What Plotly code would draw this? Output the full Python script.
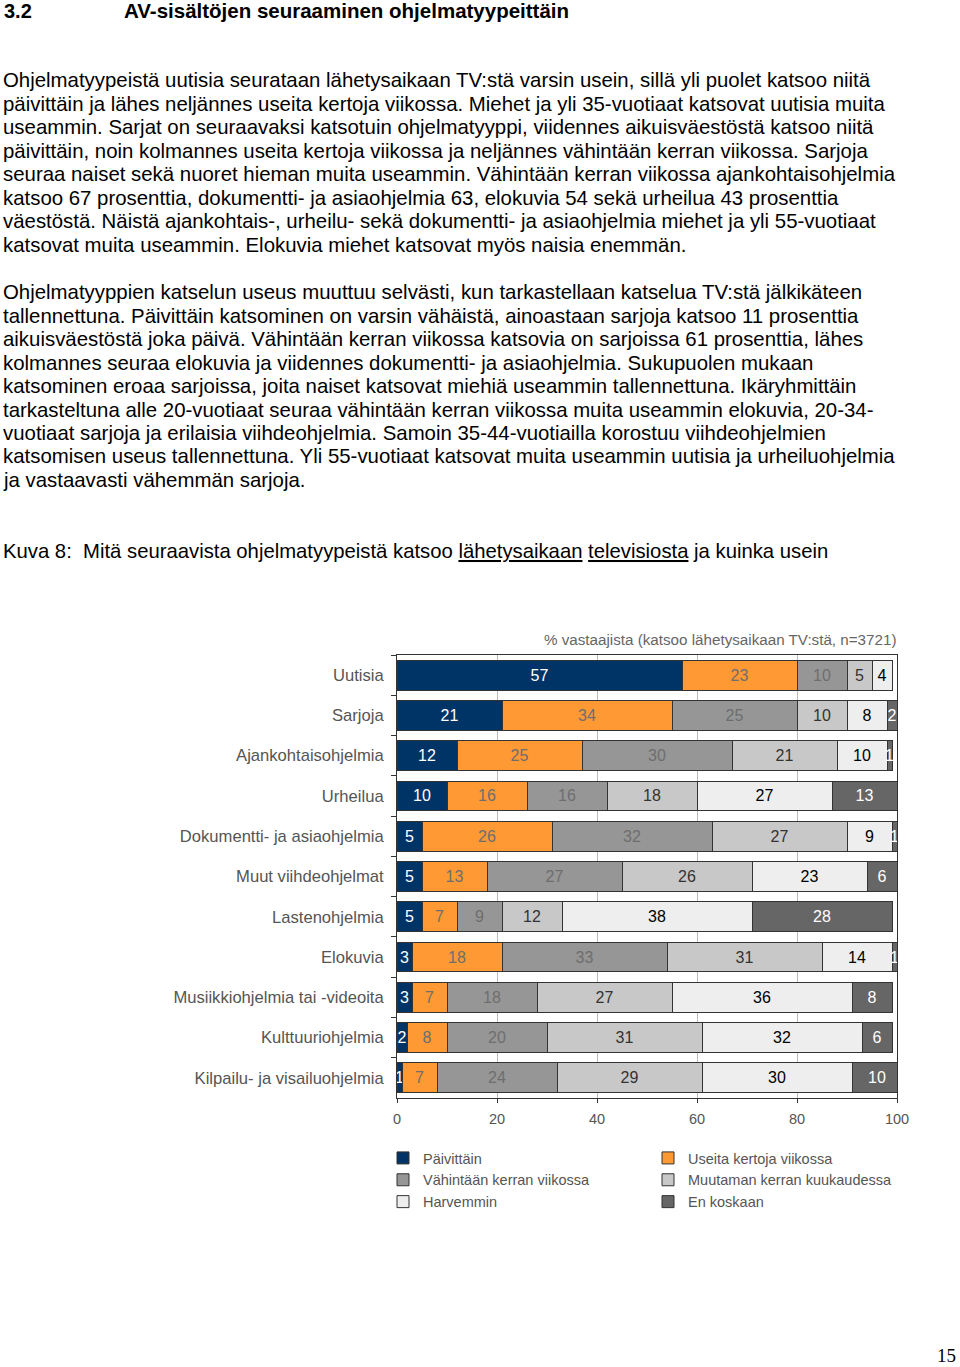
import plotly.graph_objects as go

categories = ["Uutisia", "Sarjoja", "Ajankohtaisohjelmia", "Urheilua",
              "Dokumentti- ja asiaohjelmia", "Muut viihdeohjelmat", "Lastenohjelmia",
              "Elokuvia", "Musiikkiohjelmia tai -videoita", "Kulttuuriohjelmia",
              "Kilpailu- ja visailuohjelmia"]

series_names = ["Päivittäin", "Useita kertoja viikossa", "Vähintään kerran viikossa",
                "Muutaman kerran kuukaudessa", "Harvemmin", "En koskaan"]

paivittain = [57, 21, 12, 10, 5, 5, 5, 3, 3, 2, 1]
useita = [23, 34, 25, 16, 26, 13, 7, 18, 7, 8, 7]
vahintaan = [10, 25, 30, 16, 32, 27, 9, 33, 18, 20, 24]
muutaman = [5, 10, 21, 18, 27, 26, 12, 31, 27, 31, 29]
harvemmin = [4, 8, 10, 27, 9, 23, 38, 14, 36, 32, 30]
en_koskaan = [0, 2, 1, 13, 1, 6, 28, 1, 8, 6, 10]

x_ticks = [0, 20, 40, 60, 80, 100]

values = [paivittain, useita, vahintaan, muutaman, harvemmin, en_koskaan]
colors = ["#003366", "#FF9933", "#969696", "#C8C8C8", "#EEEEEE", "#666666"]
text_colors = ["#FFFFFF", "#6E6E6E", "#6E6E6E", "#333333", "#000000", "#FFFFFF"]
legends = ["legend", "legend2", "legend", "legend2", "legend", "legend2"]

FONT = "Liberation Sans, Arial, sans-serif"

W, H = 960, 1367
# plot area in page pixels
PL, PR, PT, PB = 397, 897, 655, 1098


def px_x(p):
    return (p - PL) / (PR - PL)


def px_y(p):
    return (PB - p) / (PB - PT)


fig = go.Figure()
for name, vals, col, tcol, lg in zip(series_names, values, colors, text_colors, legends):
    fig.add_trace(go.Bar(
        y=categories, x=vals, name=name, orientation="h",
        marker=dict(color=col, line=dict(color="#333333", width=1)),
        text=[str(v) if v > 0 else "" for v in vals],
        textposition="inside", insidetextanchor="middle",
        textfont=dict(color=tcol, size=16, family=FONT),
        legend=lg, hoverinfo="skip",
    ))

annotations = []

# Heading
annotations.append(dict(text="<b>3.2</b>", x=px_x(2), y=px_y(11), xref="paper", yref="paper",
                        xanchor="left", yanchor="middle", showarrow=False,
                        font=dict(size=20, color="#000", family=FONT)))
annotations.append(dict(text="<b>AV-sisältöjen seuraaminen ohjelmatyypeittäin</b>", x=px_x(122), y=px_y(11),
                        xref="paper", yref="paper", xanchor="left", yanchor="middle", showarrow=False,
                        font=dict(size=20.5, color="#000", family=FONT)))

para1 = [
    "Ohjelmatyypeistä uutisia seurataan lähetysaikaan TV:stä varsin usein, sillä yli puolet katsoo niitä",
    "päivittäin ja lähes neljännes useita kertoja viikossa. Miehet ja yli 35-vuotiaat katsovat uutisia muita",
    "useammin. Sarjat on seuraavaksi katsotuin ohjelmatyyppi, viidennes aikuisväestöstä katsoo niitä",
    "päivittäin, noin kolmannes useita kertoja viikossa ja neljännes vähintään kerran viikossa. Sarjoja",
    "seuraa naiset sekä nuoret hieman muita useammin. Vähintään kerran viikossa ajankohtaisohjelmia",
    "katsoo 67 prosenttia, dokumentti- ja asiaohjelmia 63, elokuvia 54 sekä urheilua 43 prosenttia",
    "väestöstä. Näistä ajankohtais-, urheilu- sekä dokumentti- ja asiaohjelmia miehet ja yli 55-vuotiaat",
    "katsovat muita useammin. Elokuvia miehet katsovat myös naisia enemmän.",
]
para2 = [
    "Ohjelmatyyppien katselun useus muuttuu selvästi, kun tarkastellaan katselua TV:stä jälkikäteen",
    "tallennettuna. Päivittäin katsominen on varsin vähäistä, ainoastaan sarjoja katsoo 11 prosenttia",
    "aikuisväestöstä joka päivä. Vähintään kerran viikossa katsovia on sarjoissa 61 prosenttia, lähes",
    "kolmannes seuraa elokuvia ja viidennes dokumentti- ja asiaohjelmia. Sukupuolen mukaan",
    "katsominen eroaa sarjoissa, joita naiset katsovat miehiä useammin tallennettuna. Ikäryhmittäin",
    "tarkasteltuna alle 20-vuotiaat seuraa vähintään kerran viikossa muita useammin elokuvia, 20-34-",
    "vuotiaat sarjoja ja erilaisia viihdeohjelmia. Samoin 35-44-vuotiailla korostuu viihdeohjelmien",
    "katsomisen useus tallennettuna. Yli 55-vuotiaat katsovat muita useammin uutisia ja urheiluohjelmia",
    "ja vastaavasti vähemmän sarjoja.",
]
for i, line in enumerate(para1):
    annotations.append(dict(text=line, x=px_x(1), y=px_y(80 + i * 23.57), xref="paper", yref="paper",
                            xanchor="left", yanchor="middle", showarrow=False,
                            font=dict(size=20.4, color="#000", family=FONT)))
for i, line in enumerate(para2):
    annotations.append(dict(text=line, x=px_x(1), y=px_y(292 + i * 23.5), xref="paper", yref="paper",
                            xanchor="left", yanchor="middle", showarrow=False,
                            font=dict(size=20.4, color="#000", family=FONT)))

caption = ("Kuva 8:  Mitä seuraavista ohjelmatyypeistä katsoo "
           "<span style='text-decoration:underline'>lähetysaikaan</span> "
           "<span style='text-decoration:underline'>televisiosta</span> ja kuinka usein")
annotations.append(dict(text=caption, x=px_x(1), y=px_y(551), xref="paper", yref="paper",
                        xanchor="left", yanchor="middle", showarrow=False,
                        font=dict(size=20.3, color="#000", family=FONT)))

annotations.append(dict(text="% vastaajista (katsoo lähetysaikaan TV:stä, n=3721)", x=px_x(898), y=px_y(639),
                        xref="paper", yref="paper", xanchor="right", yanchor="middle", showarrow=False,
                        font=dict(size=15.2, color="#666666", family=FONT)))

annotations.append(dict(text="15", x=px_x(958), y=px_y(1355), xref="paper", yref="paper",
                        xanchor="right", yanchor="middle", showarrow=False,
                        font=dict(size=19, color="#000", family="Liberation Serif, serif")))

fig.update_layout(
    width=W, height=H,
    margin=dict(l=PL, r=W - PR, t=PT, b=H - PB, pad=0),
    paper_bgcolor="#FFFFFF", plot_bgcolor="#FFFFFF",
    barmode="stack", bargap=0.26,
    font=dict(family=FONT, color="#555555"),
    uniformtext=dict(minsize=16, mode="show"),
    xaxis=dict(range=[0, 100], tickvals=x_ticks, showgrid=True, gridcolor="#BBBBBB", gridwidth=1,
               showline=True, linecolor="#333333", linewidth=1, mirror=True,
               ticks="outside", ticklen=4, tickcolor="#333333",
               tickfont=dict(size=14.5, color="#555555", family=FONT), zeroline=False,
               ticklabelstandoff=4),
    yaxis=dict(categoryorder="array", categoryarray=categories, autorange="reversed",
               showline=True, linecolor="#333333", linewidth=1, mirror=True,
               ticks="outside", ticklen=5, tickcolor="#333333", tickson="boundaries",
               tickfont=dict(size=16.6, color="#555555", family=FONT), ticklabelstandoff=9),
    legend=dict(x=px_x(383), y=px_y(1142), xanchor="left", yanchor="top", xref="paper", yref="paper",
                orientation="v", font=dict(size=14.5, color="#555555", family=FONT),
                bgcolor="rgba(0,0,0,0)", tracegroupgap=0, traceorder="normal"),
    legend2=dict(x=px_x(648), y=px_y(1142), xanchor="left", yanchor="top", xref="paper", yref="paper",
                 orientation="v", font=dict(size=14.5, color="#555555", family=FONT),
                 bgcolor="rgba(0,0,0,0)", tracegroupgap=0, traceorder="normal"),
    annotations=annotations,
)

fig.write_html("out.html", config={"displayModeBar": False},
               post_script="document.body.style.margin='0';")
